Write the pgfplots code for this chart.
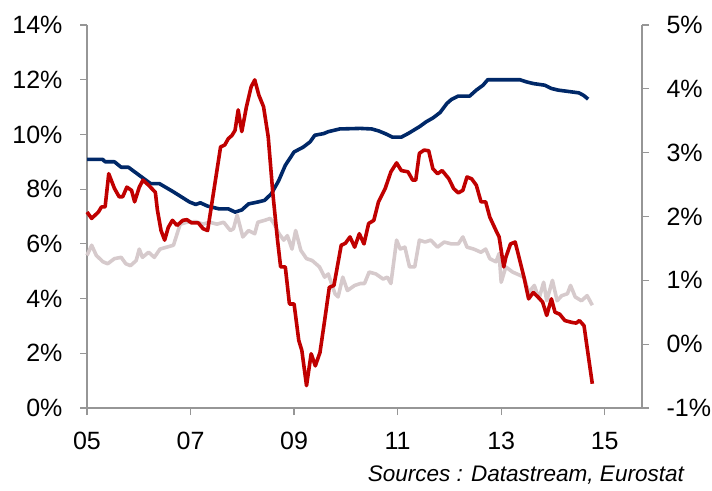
\documentclass[border=0pt]{standalone}
\usepackage{pgfplots}
\pgfplotsset{compat=1.18}
\usepackage{fontspec}
\setmainfont{Liberation Sans}
\definecolor{navy}{RGB}{0,40,104}
\definecolor{hicp}{RGB}{192,0,0}
\definecolor{core}{RGB}{214,202,204}
\definecolor{axisgrey}{RGB}{150,150,150}

\pgfplotsset{
  base/.style={
    scale only axis, width=555pt, height=383pt,
    at={(87pt,82pt)}, anchor=south west,
    xmin=5, xmax=15.72,
    tick align=outside, major tick length=7pt,
    every tick/.style={axisgrey, line width=1.2pt},
    axis line style={axisgrey, line width=1.2pt},
    tick label style={font=\fontsize{25}{30}\selectfont},
    /pgf/number format/assume math mode=true,
    clip=false,
  }
}

\begin{document}
\begin{tikzpicture}
\useasboundingbox (0,0) rectangle (712pt,490pt);

% left axis: unemployment
\begin{axis}[base,
  axis x line*=bottom, axis y line*=left,
  ymin=0, ymax=14, ytick={0,2,...,14},
  yticklabel={\pgfmathprintnumber{\tick}\%},
  xtick={5,7,9,11,13,15}, xticklabels={05,07,09,11,13,15},
  xticklabel style={yshift=-14pt},
  yticklabel style={xshift=-14pt},
]
\addplot[navy, line width=3.6pt, line join=round] coordinates {
(5.00,9.09) (5.30,9.09) (5.35,9.00) (5.53,9.00) (5.66,8.80) (5.80,8.80)
(6.05,8.45) (6.23,8.20) (6.40,8.20) (6.67,7.90) (6.98,7.53) (7.10,7.44)
(7.19,7.50) (7.33,7.38) (7.55,7.28) (7.73,7.28) (7.86,7.16) (7.99,7.24)
(8.12,7.46) (8.30,7.53) (8.43,7.59) (8.56,7.83) (8.70,8.30) (8.83,8.87)
(9.00,9.36) (9.18,9.54) (9.31,9.73) (9.40,9.97) (9.57,10.03) (9.66,10.10)
(9.88,10.20) (10.28,10.22) (10.50,10.20) (10.63,10.13) (10.76,10.03)
(10.90,9.90) (11.07,9.90) (11.20,10.03) (11.42,10.28) (11.55,10.46)
(11.68,10.60) (11.82,10.80) (11.95,11.13) (12.04,11.28) (12.17,11.40)
(12.39,11.40) (12.52,11.62) (12.65,11.80) (12.74,12.00) (13.36,12.00)
(13.49,11.92) (13.62,11.86) (13.84,11.80) (13.97,11.68) (14.10,11.62)
(14.50,11.52) (14.59,11.43) (14.68,11.29)
};
\end{axis}

% right axis: inflation
\begin{axis}[base,
  axis x line=none, axis y line*=right,
  ymin=-1, ymax=5, ytick={-1,0,...,5},
  yticklabel={\pgfmathprintnumber{\tick}\%},
  yticklabel style={xshift=14pt},
]
\addplot[core, line width=3.6pt, line join=round] coordinates {
(5.00,1.39) (5.09,1.55) (5.18,1.39) (5.31,1.29) (5.40,1.26) (5.53,1.34)
(5.66,1.36) (5.75,1.26) (5.84,1.23) (5.95,1.31) (6.01,1.49) (6.07,1.36)
(6.19,1.44) (6.30,1.36) (6.41,1.49) (6.54,1.52) (6.67,1.55) (6.80,1.88)
(6.93,1.91) (7.10,1.92) (7.24,1.88) (7.37,1.91) (7.51,1.88) (7.64,1.91)
(7.77,1.78) (7.83,1.81) (7.90,2.02) (8.01,1.68) (8.12,1.78) (8.24,1.73)
(8.30,1.91) (8.43,1.94) (8.54,1.97) (8.61,1.89) (8.71,1.73) (8.80,1.63)
(8.87,1.70) (8.96,1.49) (9.03,1.78) (9.13,1.47) (9.24,1.34) (9.35,1.31)
(9.49,1.21) (9.59,1.05) (9.66,1.10) (9.79,0.79) (9.85,0.74) (9.94,1.05)
(10.03,0.84) (10.17,0.92) (10.28,0.95) (10.36,0.95) (10.45,1.13)
(10.58,1.10) (10.72,1.02) (10.80,1.05) (10.87,0.95) (10.98,1.63)
(11.05,1.49) (11.14,1.52) (11.23,1.21) (11.33,1.21) (11.42,1.63)
(11.53,1.60) (11.64,1.63) (11.77,1.52) (11.90,1.60) (12.04,1.57)
(12.17,1.57) (12.26,1.68) (12.34,1.52) (12.47,1.49) (12.61,1.44)
(12.70,1.49) (12.78,1.34) (12.90,1.29) (12.96,1.42) (13.00,0.97)
(13.09,1.21) (13.22,1.13) (13.36,1.08) (13.44,1.05) (13.53,0.81)
(13.64,0.92) (13.73,0.71) (13.82,0.97) (13.88,0.68) (13.99,1.00)
(14.08,0.68) (14.17,0.76) (14.28,0.79) (14.34,0.92) (14.43,0.74)
(14.55,0.68) (14.66,0.76) (14.76,0.61)
};
\addplot[hicp, line width=3.6pt, line join=round] coordinates {
(5.00,2.07) (5.09,1.97) (5.22,2.07) (5.28,2.15) (5.35,2.15) (5.42,2.67)
(5.53,2.44) (5.62,2.31) (5.69,2.31) (5.77,2.46) (5.86,2.41) (5.92,2.23)
(6.01,2.46) (6.08,2.57) (6.19,2.49) (6.32,2.38) (6.36,2.10) (6.43,1.78)
(6.50,1.63) (6.57,1.83) (6.65,1.94) (6.74,1.86) (6.85,1.94) (6.93,1.95)
(7.02,1.90) (7.15,1.90) (7.24,1.81) (7.33,1.78) (7.46,2.46) (7.58,3.09)
(7.66,3.12) (7.73,3.22) (7.80,3.27) (7.86,3.35) (7.92,3.67) (7.99,3.33)
(8.08,3.72) (8.17,4.03) (8.24,4.14) (8.32,3.90) (8.41,3.72) (8.50,3.25)
(8.59,2.36) (8.68,1.63) (8.74,1.21) (8.83,1.21) (8.91,0.63) (9.00,0.63)
(9.09,0.06) (9.15,-0.10) (9.24,-0.65) (9.33,-0.15) (9.41,-0.34)
(9.50,-0.13) (9.59,0.37) (9.68,0.89) (9.77,0.92) (9.91,1.55) (9.99,1.58)
(10.08,1.68) (10.17,1.52) (10.26,1.73) (10.35,1.57) (10.44,1.89)
(10.54,1.94) (10.63,2.23) (10.76,2.44) (10.87,2.70) (10.98,2.84)
(11.07,2.72) (11.20,2.70) (11.29,2.57) (11.35,2.57) (11.42,2.99)
(11.51,3.04) (11.60,3.03) (11.68,2.75) (11.77,2.67) (11.86,2.72)
(11.99,2.59) (12.08,2.44) (12.17,2.37) (12.26,2.41) (12.34,2.62)
(12.43,2.59) (12.52,2.49) (12.61,2.23) (12.70,2.23) (12.78,1.99)
(12.90,1.78) (12.96,1.68) (13.05,1.21) (13.09,1.36) (13.18,1.57)
(13.27,1.60) (13.36,1.31) (13.44,1.05) (13.53,0.71) (13.62,0.81)
(13.71,0.74) (13.80,0.66) (13.88,0.45) (13.97,0.71) (14.04,0.50)
(14.13,0.47) (14.23,0.37) (14.37,0.34) (14.45,0.33) (14.51,0.37)
(14.60,0.29) (14.76,-0.62)
};
\end{axis}

\node[anchor=south east, inner sep=0pt, font=\fontsize{22.5}{27}\selectfont\itshape]
  at (684pt,5pt) {Sources : Datastream, Eurostat};
\end{tikzpicture}
\end{document}
